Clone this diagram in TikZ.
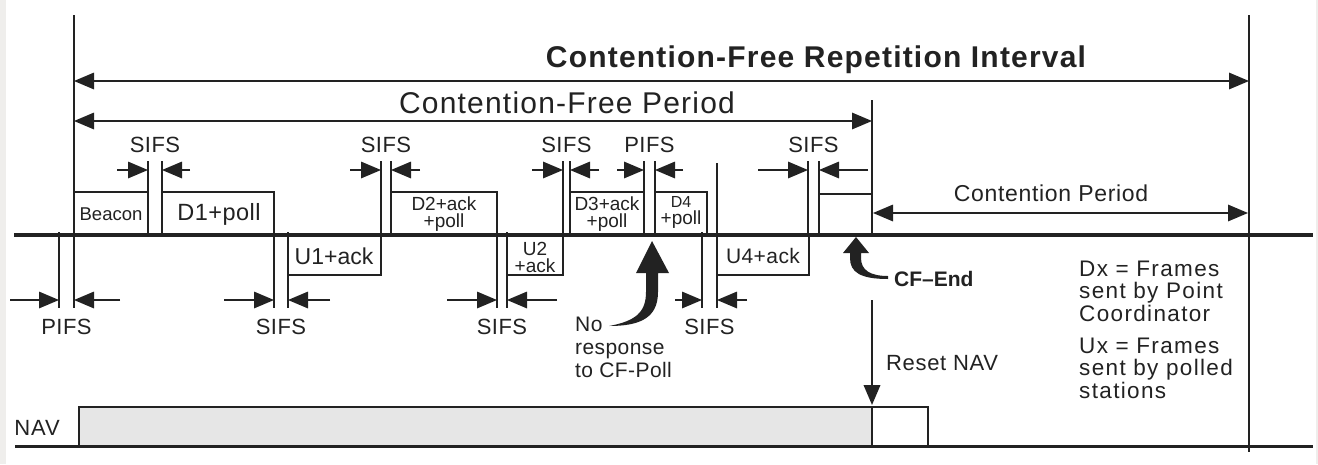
\documentclass[tikz,border=0pt]{standalone}
\usepackage{fontspec}
\setmainfont{Liberation Sans}
\usetikzlibrary{arrows.meta}
\definecolor{ink}{HTML}{222222}
\definecolor{navgray}{HTML}{E6E6E6}
\definecolor{edgegray}{HTML}{EFEEEC}
\tikzset{
  >={Triangle[length=20pt,width=16.5pt]},
  vline/.style={draw=ink, line width=2.2pt},
  gapline/.style={draw=ink, line width=2pt},
  dimarr/.style={draw=ink, line width=1.6pt, ->},
  dimboth/.style={draw=ink, line width=1.6pt, <->},
  frm/.style={draw=ink, line width=2pt},
  gaplbl/.style={font=\fontsize{22}{24}\selectfont\addfontfeature{LetterSpace=2}, inner sep=0pt, text=ink},
  flbl/.style={font=\fontsize{19}{17}\selectfont, align=center, inner sep=0pt, text=ink},
  txt/.style={inner sep=0pt, text=ink},
  legend/.style={inner sep=0pt, text=ink, anchor=base west, font=\fontsize{22.5}{24}\selectfont\addfontfeature{LetterSpace=6}},
  bigarrow/.style={fill=ink, draw=none}
}
\begin{document}
\begin{tikzpicture}[x=1pt,y=-1pt]
  % background / bounding box
  \fill[white] (0,0) rectangle (1318,464);
  \fill[edgegray] (0,0) rectangle (6,464);
  \fill[edgegray] (1316,0) rectangle (1318,464);
  \useasboundingbox (0,0) rectangle (1318,464);

  % named coordinates
  \coordinate (Ltop) at (74,15);
  \coordinate (Lbot) at (74,308);
  \coordinate (Rtop) at (1249,15);
  \coordinate (Rbot) at (1249,452);
  \coordinate (Ctop) at (872,100);
  \coordinate (Cbot) at (872,235);
  \coordinate (lineL) at (14,235);
  \coordinate (lineR) at (1313,235);

  % main vertical lines
  \draw[vline] (Ltop) -- (Lbot);
  \draw[vline] (Rtop) -- (Rbot);
  \draw[vline] (Ctop) -- (Cbot);

  % interval arrows
  \coordinate (cfriL) at (74,81);
  \coordinate (cfriR) at (1249,81);
  \draw[dimboth] (cfriL) -- (cfriR);
  \node[txt, font=\fontsize{30}{34}\selectfont\bfseries\addfontfeature{LetterSpace=4}] (cfri) at (816,60) {Contention-Free Repetition Interval};

  \coordinate (cfpL) at (74,121);
  \coordinate (cfpR) at (872,121);
  \draw[dimboth] (cfpL) -- (cfpR);
  \node[txt, font=\fontsize{30}{34}\selectfont\addfontfeature{LetterSpace=4}] (cfp) at (567,103) {Contention-Free Period};

  \coordinate (cpL) at (873,213);
  \coordinate (cpR) at (1248,213);
  \draw[dimboth] (cpL) -- (cpR);
  \node[txt, font=\fontsize{23}{26}\selectfont\addfontfeature{LetterSpace=3}] (cp) at (1051,193) {Contention Period};

  % frames above the line
  \draw[frm] (74,235) |- (148,192) -- (148,235);
  \draw[frm] (162,235) |- (274,192) -- (274,235);
  \draw[frm] (391,235) |- (497,192) -- (497,235);
  \draw[frm] (570,235) |- (644,192) -- (644,235);
  \draw[frm] (655,235) |- (707,192) -- (707,235);
  \draw[frm] (819,235) |- (872,194);
  \node[txt, font=\fontsize{18.5}{20}\selectfont] (beacon) at (111,214) {Beacon};
  \node[txt, font=\fontsize{23.5}{26}\selectfont\addfontfeature{LetterSpace=2}] (d1) at (219,214) {D1+poll};
  \node[flbl] (d2) at (444,214) {D2+ack\\+poll};
  \node[flbl] (d3) at (607,214) {D3+ack\\+poll};
  \node[flbl] (d4) at (681,212) {{\fontsize{16}{17}\selectfont D4}\\+poll};

  % frames below the line
  \draw[frm] (288,235) |- (381,275) -- (381,235);
  \draw[frm] (507,235) |- (563,275) -- (563,235);
  \draw[frm] (717,235) |- (809,275) -- (809,235);
  \node[txt, font=\fontsize{23}{26}\selectfont] (u1) at (334,256) {U1+ack};
  \node[flbl] (u2) at (535,257) {U2\\+ack};
  \node[txt, font=\fontsize{21}{24}\selectfont\addfontfeature{LetterSpace=2}] (u4) at (763,256) {U4+ack};

  % gaps above the line
  \foreach \a/\b/\l/\r/\t in {148/162/117/190/SIFS, 381/391/350/420/SIFS, 563/570/532/599/SIFS, 644/655/617/683/PIFS, 808/819/758/868/SIFS} {
    \coordinate (ua\a) at (\a,170);
    \coordinate (ub\a) at (\b,170);
    \coordinate (ul\a) at (\l,170);
    \coordinate (ur\a) at (\r,170);
    \draw[gapline] (\a,161) -- (\a,235);
    \draw[gapline] (\b,161) -- (\b,235);
    \draw[dimarr] (ul\a) -- (ua\a);
    \draw[dimarr] (ur\a) -- (ub\a);
    \node[gaplbl] (ut\a) at ({(\a+\b)/2},145) {\t};
  }
  \draw[gapline] (717,163) -- (717,235);

  % gaps below the line
  \foreach \a/\b/\l/\r/\t in {59/74/10/120/PIFS, 274/288/224/330/SIFS, 497/507/447/557/SIFS, 702/717/675/747/SIFS} {
    \coordinate (la\a) at (\a,300);
    \coordinate (lb\a) at (\b,300);
    \coordinate (ll\a) at (\l,300);
    \coordinate (lr\a) at (\r,300);
    \draw[gapline] (\a,232) -- (\a,308);
    \draw[gapline] (\b,232) -- (\b,308);
    \draw[dimarr] (ll\a) -- (la\a);
    \draw[dimarr] (lr\a) -- (lb\a);
    \node[gaplbl] (lt\a) at ({(\a+\b)/2},327) {\t};
  }

  % main time line
  \draw[draw=ink, line width=4.5pt] (lineL) -- (lineR);

  % No response arrow
  \fill[bigarrow] (636,273) -- (652,241) -- (669,273) -- (658,273)
     -- (658,292) .. controls (658,318) and (640,326) .. (609,326)
     .. controls (636,321) and (646,312) .. (646,292) -- (646,273) -- cycle;
  \node[txt, anchor=north west, align=left, font=\fontsize{21}{23}\selectfont\addfontfeature{LetterSpace=2}] (nores) at (575,317) {No\\response\\to CF-Poll};

  % CF-End arrow
  \fill[bigarrow] (843,253) -- (856,237) -- (869,253) -- (861,253)
     -- (861,258) .. controls (861,270) and (870,276) .. (888,276)
     -- (888,279) .. controls (860,279) and (850,272) .. (850,258) -- (850,253) -- cycle;
  \node[txt, anchor=west, font=\fontsize{21}{24}\selectfont\bfseries] (cfend) at (894,279) {CF–End};

  % Reset NAV
  \coordinate (rnTop) at (872,300);
  \coordinate (rnBot) at (872,405);
  \draw[draw=ink, line width=2pt, ->] (rnTop) -- (rnBot);
  \node[txt, anchor=west, font=\fontsize{22}{24}\selectfont\addfontfeature{LetterSpace=3}] (reset) at (886,363) {Reset NAV};

  % legend
  \node[legend] (dx1) at (1079,276) {Dx = Frames};
  \node[legend] (dx2) at (1079,298.5) {sent by Point};
  \node[legend] (dx3) at (1079,321) {Coordinator};
  \node[legend] (ux1) at (1079,353) {Ux = Frames};
  \node[legend] (ux2) at (1079,375.5) {sent by polled};
  \node[legend] (ux3) at (1079,398) {stations};

  % NAV
  \draw[draw=ink, line width=1.8pt, fill=navgray] (79,446) rectangle (872,407);
  \draw[draw=ink, line width=1.8pt, fill=white] (872,446) rectangle (928,407);
  \draw[draw=ink, line width=3pt] (15,446) -- (1313,446);
  \node[txt, font=\fontsize{22}{24}\selectfont\addfontfeature{LetterSpace=4}] (nav) at (37,428) {NAV};
\end{tikzpicture}
\end{document}
